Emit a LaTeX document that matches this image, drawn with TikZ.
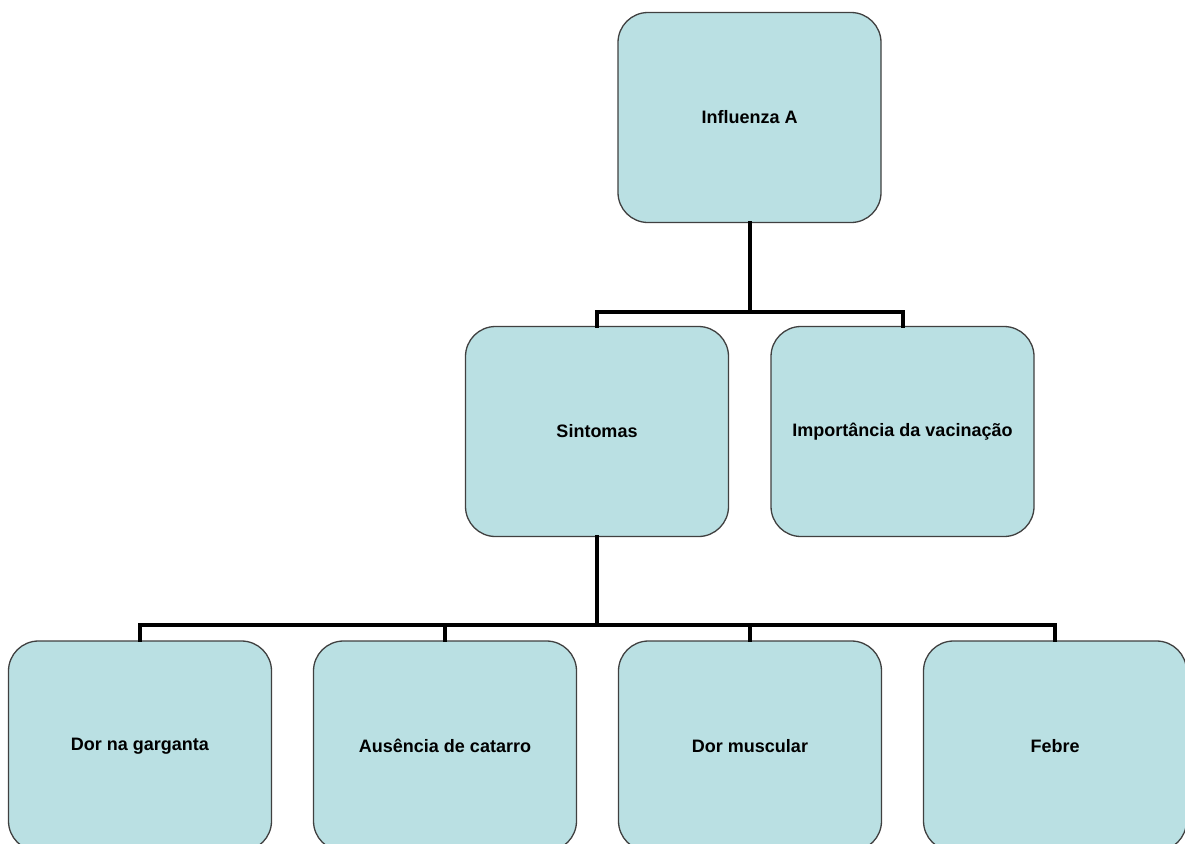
\documentclass[tikz,border=0pt]{standalone}
\usepackage{fontspec}
\setmainfont{Liberation Sans}
\begin{document}
\begin{tikzpicture}[x=1pt,y=1pt,
  topic/.style={draw=black!75, line width=1.3pt, fill=boxblue, rounded corners=30pt,
    minimum width=263pt, minimum height=210pt, inner sep=0pt,
    font=\fontsize{18}{20}\selectfont\bfseries},
  conn/.style={draw=black, line width=4pt, line cap=rect, line join=miter}]
\definecolor{boxblue}{RGB}{186,224,227}
\useasboundingbox (0,0) rectangle (1185,-843);
\clip (0,0) rectangle (1185,-843);

% boxes
\node[topic] (inf) at (749.5,-117.5) {Influenza A};
\node[topic] (sint) at (597,-431.5) {Sintomas};
\node[topic] (imp) at (902.5,-431.5) {Importância da vacinação};
\node[topic] (dor) at (140,-746) {Dor na garganta};
\node[topic] (aus) at (445,-746) {Ausência de catarro};
\node[topic] (mus) at (750,-746) {Dor muscular};
\node[topic] (feb) at (1055,-746) {Febre};

% tree connectors
\begin{scope}[on background layer/.try]
\draw[conn] (inf.south) -- ++(0,-89) coordinate (j1);
\draw[conn] (j1) -| (sint.north);
\draw[conn] (j1) -| (imp.north);
\draw[conn] (sint.south) -- ++(0,-88) coordinate (j2);
\draw[conn] (j2) -| (dor.north);
\draw[conn] (j2) -| (aus.north);
\draw[conn] (j2) -| (mus.north);
\draw[conn] (j2) -| (feb.north);
\end{scope}
\end{tikzpicture}
\end{document}
